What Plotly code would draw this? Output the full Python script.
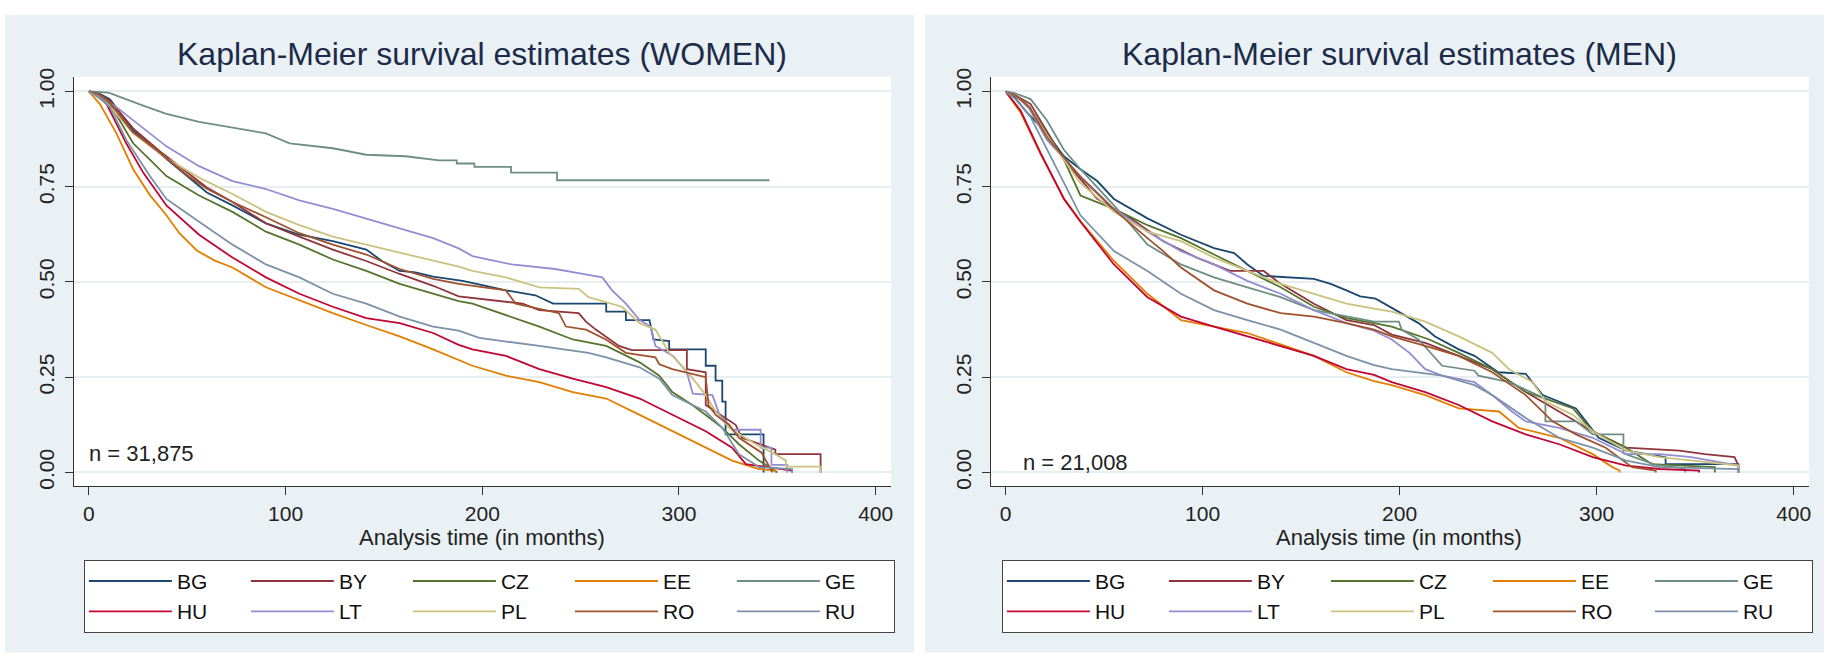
import plotly.graph_objects as go

countries = ["BG", "BY", "CZ", "EE", "GE", "HU", "LT", "PL", "RO", "RU"]
colors = {"BG": "#1a476f", "BY": "#90353b", "CZ": "#55752f", "EE": "#e37e00", "GE": "#6e8e84",
          "HU": "#c10534", "LT": "#938dd2", "PL": "#cac27e", "RO": "#a0522d", "RU": "#7b92a8"}
columns = {"BG": 1, "HU": 1, "BY": 2, "LT": 2, "CZ": 3, "PL": 3, "EE": 4, "RO": 4, "GE": 5, "RU": 5}

x_ticks = [0, 100, 200, 300, 400]
y_ticks = [0, 0.25, 0.5, 0.75, 1.0]
y_ticklabels = ["0.00", "0.25", "0.50", "0.75", "1.00"]

# ---------------- WOMEN ----------------
W_BG_t = [0, 5, 10.7, 22.5, 36, 48, 60, 73, 90, 107, 124, 141, 149, 158, 166, 175, 190, 200, 212, 227, 236, 263, 263, 273, 273, 285, 287, 295, 295, 313.6, 313.6, 318.6, 318.6, 322, 322, 323.7, 323.7, 343, 343]
W_BG_s = [1, 0.995, 0.98, 0.898, 0.838, 0.787, 0.735, 0.701, 0.654, 0.624, 0.607, 0.585, 0.555, 0.529, 0.525, 0.514, 0.503, 0.492, 0.478, 0.465, 0.443, 0.443, 0.422, 0.422, 0.400, 0.400, 0.349, 0.345, 0.323, 0.323, 0.280, 0.280, 0.241, 0.241, 0.186, 0.186, 0.100, 0.100, 0.0]
W_BY_t = [0, 5, 10.7, 22.5, 36, 48, 60, 73, 90, 107, 124, 141, 158, 175, 188, 220.5, 229, 249, 252.7, 257.7, 269.5, 276, 304, 304, 313.6, 313.6, 328.8, 332, 349, 349, 372, 372]
W_BY_s = [1, 0.993, 0.976, 0.903, 0.843, 0.796, 0.748, 0.710, 0.654, 0.619, 0.585, 0.555, 0.521, 0.49, 0.462, 0.443, 0.426, 0.418, 0.396, 0.375, 0.332, 0.321, 0.321, 0.271, 0.263, 0.177, 0.125, 0.091, 0.06, 0.048, 0.048, 0.0]
W_CZ_t = [0, 5, 10.7, 22.5, 31, 39.4, 56, 73, 90, 107, 124, 141, 158, 175, 188, 195, 212, 229, 246, 263, 280, 290, 296.6, 306.8, 313.6, 322, 330.5, 340.7, 347.5, 350]
W_CZ_s = [1, 0.99, 0.967, 0.864, 0.821, 0.778, 0.727, 0.684, 0.632, 0.598, 0.559, 0.529, 0.495, 0.469, 0.450, 0.443, 0.413, 0.383, 0.349, 0.332, 0.289, 0.254, 0.211, 0.177, 0.151, 0.117, 0.074, 0.031, 0.009, 0.0]
W_EE_t = [0, 5.6, 14, 22.5, 31, 39.4, 46, 55, 64, 73, 90, 107, 124, 141, 158, 175, 188, 195, 212, 229, 246, 263, 280, 296.6, 313.6, 327, 340.7, 349, 349]
W_EE_s = [1, 0.967, 0.890, 0.796, 0.728, 0.675, 0.628, 0.582, 0.556, 0.538, 0.486, 0.452, 0.418, 0.387, 0.357, 0.323, 0.295, 0.280, 0.254, 0.237, 0.211, 0.194, 0.151, 0.108, 0.065, 0.031, 0.009, 0.005, 0.0]
W_GE_t = [0, 10, 27.6, 39, 56, 73, 90, 102, 124, 141, 161, 178, 187, 187, 196, 196, 214.6, 214.6, 238, 238, 346]
W_GE_s = [1, 0.997, 0.963, 0.942, 0.920, 0.905, 0.890, 0.864, 0.851, 0.834, 0.830, 0.819, 0.819, 0.811, 0.811, 0.802, 0.802, 0.787, 0.787, 0.767, 0.767]
W_HU_t = [0, 5, 9, 19, 27.6, 39.4, 56, 73, 90, 107, 124, 141, 158, 175, 188, 195, 212, 229, 246, 263, 280, 296.6, 313.6, 327, 334, 357.5, 357.5]
W_HU_s = [1, 0.985, 0.967, 0.864, 0.787, 0.701, 0.624, 0.564, 0.512, 0.469, 0.435, 0.405, 0.392, 0.366, 0.335, 0.323, 0.306, 0.271, 0.246, 0.224, 0.194, 0.151, 0.108, 0.065, 0.022, 0.005, 0.0]
W_LT_t = [0, 5, 14, 26, 39.4, 56, 73, 90, 107, 124, 141, 158, 175, 188, 195, 215, 237, 251, 261, 266, 273, 280, 285.6, 288, 297, 304, 307, 317, 320.6, 325.5, 327, 341.5, 341.5, 347, 347, 355, 355]
W_LT_s = [1, 0.99, 0.959, 0.911, 0.856, 0.804, 0.765, 0.744, 0.714, 0.692, 0.667, 0.641, 0.615, 0.588, 0.568, 0.546, 0.534, 0.521, 0.512, 0.478, 0.443, 0.400, 0.383, 0.332, 0.306, 0.263, 0.207, 0.203, 0.151, 0.125, 0.112, 0.112, 0.065, 0.065, 0.02, 0.02, 0.0]
W_PL_t = [0, 10, 22.5, 39, 56, 73, 90, 107, 124, 141, 158, 175, 188, 195, 212, 229, 249, 254, 271, 280, 288, 295, 303, 308.5, 313.6, 318.6, 325.5, 339, 347.5, 354.4, 354.4, 372, 372]
W_PL_s = [1, 0.965, 0.89, 0.826, 0.774, 0.731, 0.684, 0.649, 0.619, 0.598, 0.576, 0.555, 0.540, 0.529, 0.512, 0.486, 0.482, 0.460, 0.435, 0.392, 0.375, 0.314, 0.271, 0.237, 0.203, 0.160, 0.117, 0.074, 0.052, 0.031, 0.015, 0.015, 0.0]
W_RO_t = [0, 5, 10, 22, 36, 50, 60, 73, 90, 107, 124, 141, 158, 175, 188, 212, 217, 239, 242.5, 252.7, 262.8, 273, 288, 290, 296.6, 313.6, 315, 318.6, 325.5, 330.5, 342, 347.5]
W_RO_s = [1, 0.993, 0.975, 0.895, 0.84, 0.78, 0.745, 0.71, 0.67, 0.628, 0.598, 0.572, 0.534, 0.508, 0.495, 0.478, 0.443, 0.418, 0.383, 0.375, 0.349, 0.314, 0.302, 0.284, 0.271, 0.250, 0.177, 0.151, 0.125, 0.091, 0.052, 0.0]
W_RU_t = [0, 5, 10.7, 19, 31, 39.4, 56, 73, 90, 107, 124, 141, 158, 175, 188, 198.5, 229, 254, 263, 280, 290, 296.6, 313.6, 322, 330.5, 340.7, 357.5, 357.5]
W_RU_s = [1, 0.985, 0.959, 0.873, 0.778, 0.718, 0.658, 0.598, 0.546, 0.512, 0.469, 0.443, 0.409, 0.383, 0.372, 0.353, 0.332, 0.314, 0.302, 0.276, 0.246, 0.203, 0.160, 0.117, 0.048, 0.014, 0.009, 0.0]

# ---------------- MEN ----------------
M_BG_t = [0, 4, 10, 21, 29.6, 38, 46.5, 55, 72, 89, 105.8, 116, 122.7, 131, 156.5, 165, 173, 180, 187.8, 199.6, 209.6, 218, 230, 238, 250, 264, 272.6, 289.5, 301, 315, 335, 335, 372, 372]
M_BG_s = [1, 0.989, 0.95, 0.890, 0.830, 0.796, 0.765, 0.718, 0.667, 0.624, 0.589, 0.576, 0.546, 0.516, 0.508, 0.495, 0.478, 0.462, 0.456, 0.422, 0.392, 0.357, 0.323, 0.306, 0.263, 0.259, 0.203, 0.168, 0.091, 0.057, 0.040, 0.022, 0.022, 0.0]
M_BY_t = [0, 5, 12.7, 29.6, 46.5, 63.5, 80, 97, 114, 131, 139.6, 156.5, 173, 187, 196, 213, 230, 247, 264, 281, 298, 315, 342, 355, 370, 372, 372]
M_BY_s = [1, 0.99, 0.967, 0.821, 0.718, 0.667, 0.607, 0.564, 0.529, 0.529, 0.495, 0.443, 0.400, 0.387, 0.362, 0.340, 0.306, 0.271, 0.211, 0.160, 0.108, 0.065, 0.057, 0.048, 0.040, 0.018, 0.0]
M_CZ_t = [0, 5, 12, 21, 29.6, 38, 46.5, 55, 72, 89, 105.8, 122.7, 139.6, 156.5, 173, 187, 196, 215, 230, 247, 264, 274, 288, 298, 315, 328, 360, 360]
M_CZ_s = [1, 0.99, 0.96, 0.890, 0.821, 0.727, 0.710, 0.692, 0.649, 0.615, 0.572, 0.529, 0.486, 0.435, 0.405, 0.392, 0.383, 0.349, 0.314, 0.271, 0.211, 0.194, 0.168, 0.108, 0.065, 0.022, 0.014, 0.0]
M_EE_t = [0, 7.6, 17.8, 29.6, 38, 55, 72, 89, 105.8, 122.7, 139.6, 156.5, 173, 187, 196, 213, 230, 250.5, 260.5, 281, 298, 308, 311.6, 311.6]
M_EE_s = [1, 0.945, 0.835, 0.72, 0.66, 0.555, 0.469, 0.400, 0.383, 0.366, 0.336, 0.306, 0.263, 0.240, 0.229, 0.203, 0.168, 0.160, 0.117, 0.091, 0.048, 0.014, 0.005, 0.0]
M_GE_t = [0, 5, 12.7, 21, 29.6, 38, 55, 72, 89, 105.8, 122.7, 139.6, 156.5, 173, 187, 199.6, 201, 209.6, 221.6, 238, 240, 255.5, 274, 274, 289.5, 298, 313.6, 313.6, 330, 345, 345]
M_GE_s = [1, 0.995, 0.980, 0.924, 0.847, 0.796, 0.701, 0.598, 0.546, 0.512, 0.486, 0.460, 0.426, 0.409, 0.396, 0.396, 0.375, 0.349, 0.280, 0.267, 0.254, 0.237, 0.194, 0.134, 0.134, 0.100, 0.100, 0.05, 0.02, 0.01, 0.0]
M_HU_t = [0, 7.6, 17.8, 29.6, 38, 55, 72, 89, 105.8, 122.7, 139.6, 156.5, 173, 187, 196, 213, 230, 247, 264, 281, 298, 315, 332, 352, 352]
M_HU_s = [1, 0.950, 0.838, 0.718, 0.658, 0.546, 0.460, 0.409, 0.383, 0.357, 0.332, 0.306, 0.271, 0.256, 0.237, 0.211, 0.177, 0.134, 0.100, 0.074, 0.040, 0.018, 0.009, 0.005, 0.0]
M_LT_t = [0, 5, 12, 21, 38, 55, 72, 89, 105.8, 122.7, 139.6, 156.5, 173, 187, 196, 205, 213, 221.6, 238, 247, 257, 264, 281, 298, 315, 332, 348, 372, 372]
M_LT_s = [1, 0.99, 0.955, 0.873, 0.778, 0.692, 0.632, 0.581, 0.546, 0.503, 0.469, 0.426, 0.392, 0.372, 0.349, 0.314, 0.271, 0.254, 0.237, 0.203, 0.160, 0.134, 0.117, 0.091, 0.048, 0.048, 0.040, 0.018, 0.0]
M_PL_t = [0, 5, 12, 21, 29.6, 38, 55, 72, 89, 105.8, 122.7, 139.6, 156.5, 173, 187, 196, 213, 230, 247, 255.5, 267.5, 274, 288, 298, 315, 332, 349, 372, 372]
M_PL_s = [1, 0.99, 0.96, 0.885, 0.82, 0.76, 0.684, 0.632, 0.607, 0.564, 0.529, 0.495, 0.469, 0.443, 0.430, 0.422, 0.396, 0.357, 0.314, 0.271, 0.237, 0.186, 0.151, 0.108, 0.057, 0.040, 0.031, 0.018, 0.0]
M_RO_t = [0, 5, 12, 21, 38, 55, 72, 80, 89, 105.8, 122.7, 139.6, 156.5, 173, 187, 196, 213, 230, 247, 264, 277.6, 289.5, 304.6, 318, 330, 330]
M_RO_s = [1, 0.99, 0.96, 0.88, 0.775, 0.69, 0.615, 0.581, 0.538, 0.478, 0.443, 0.418, 0.409, 0.392, 0.375, 0.357, 0.332, 0.306, 0.263, 0.203, 0.134, 0.100, 0.065, 0.014, 0.005, 0.0]
M_RU_t = [0, 5, 12.7, 21, 38, 55, 72, 89, 105.8, 122.7, 139.6, 156.5, 173, 187, 196, 221.6, 238, 247, 264, 281, 298, 315, 332, 372, 372]
M_RU_s = [1, 0.98, 0.933, 0.847, 0.675, 0.581, 0.529, 0.469, 0.426, 0.400, 0.375, 0.340, 0.306, 0.282, 0.271, 0.254, 0.229, 0.203, 0.143, 0.091, 0.065, 0.031, 0.014, 0.009, 0.0]

women = {"BG": (W_BG_t, W_BG_s), "BY": (W_BY_t, W_BY_s), "CZ": (W_CZ_t, W_CZ_s), "EE": (W_EE_t, W_EE_s),
         "GE": (W_GE_t, W_GE_s), "HU": (W_HU_t, W_HU_s), "LT": (W_LT_t, W_LT_s), "PL": (W_PL_t, W_PL_s),
         "RO": (W_RO_t, W_RO_s), "RU": (W_RU_t, W_RU_s)}
men = {"BG": (M_BG_t, M_BG_s), "BY": (M_BY_t, M_BY_s), "CZ": (M_CZ_t, M_CZ_s), "EE": (M_EE_t, M_EE_s),
       "GE": (M_GE_t, M_GE_s), "HU": (M_HU_t, M_HU_s), "LT": (M_LT_t, M_LT_s), "PL": (M_PL_t, M_PL_s),
       "RO": (M_RO_t, M_RO_s), "RU": (M_RU_t, M_RU_s)}

FONT = "Liberation Sans, Arial, sans-serif"
W, H = 1831, 662
fig = go.Figure()

for panel, data, xa, ya, leg in [("w", women, "x", "y", "legend"), ("m", men, "x2", "y2", "legend2")]:
    for c in countries:
        t, s = data[c]
        fig.add_trace(go.Scatter(
            x=t, y=s, mode="lines", name=c, xaxis=xa, yaxis=ya,
            line=dict(color=colors[c], width=1.8),
            legend=leg, legendgroup=f"{panel}{columns[c]}", showlegend=True,
            hoverinfo="skip"))


def px_x(p):
    return p / W


def px_y(p):
    return 1 - p / H


axis_common = dict(showline=True, linecolor="#333333", linewidth=1.3, ticks="outside",
                   tickcolor="#333333", tickwidth=1.3, ticklen=8, zeroline=False,
                   tickfont=dict(family=FONT, size=21, color="#222222"))

fig.update_layout(
    width=W, height=H, autosize=False,
    margin=dict(l=0, r=0, t=0, b=0),
    paper_bgcolor="white", plot_bgcolor="white",
    font=dict(family=FONT, color="#222222"),
    xaxis=dict(domain=[px_x(74), px_x(892)], range=[-7.62, 407.8], tickvals=x_ticks,
               showgrid=False, anchor="y", **axis_common),
    yaxis=dict(domain=[px_y(486), px_y(69)], range=[-0.0361, 1.0387], tickvals=y_ticks,
               ticktext=y_ticklabels, tickangle=-90, showgrid=True, gridcolor="#e6eef1",
               gridwidth=1.5, anchor="x", ticklabelstandoff=2, **axis_common),
    xaxis2=dict(domain=[px_x(992), px_x(1811)], range=[-7.45, 407.8], tickvals=x_ticks,
                showgrid=False, anchor="y2", **axis_common),
    yaxis2=dict(domain=[px_y(486), px_y(69)], range=[-0.0361, 1.0387], tickvals=y_ticks,
                ticktext=y_ticklabels, tickangle=-90, showgrid=True, gridcolor="#e6eef1",
                gridwidth=1.5, anchor="x2", ticklabelstandoff=2, **axis_common),
    shapes=[
        dict(type="rect", xref="paper", yref="paper", x0=px_x(5), x1=px_x(915), y0=px_y(655), y1=px_y(6),
             fillcolor="#eaf1f4", line=dict(width=0), layer="below"),
        dict(type="rect", xref="paper", yref="paper", x0=px_x(926), x1=px_x(1826), y0=px_y(655), y1=px_y(6),
             fillcolor="#eaf1f4", line=dict(width=0), layer="below"),
        dict(type="rect", xref="x domain", yref="y domain", x0=0, x1=1, y0=0, y1=1,
             fillcolor="white", line=dict(width=0), layer="below"),
        dict(type="rect", xref="x2 domain", yref="y2 domain", x0=0, x1=1, y0=0, y1=1,
             fillcolor="white", line=dict(width=0), layer="below"),
    ],
)

leg_common = dict(orientation="h", traceorder="grouped", bgcolor="white", bordercolor="#444444",
                  borderwidth=1, font=dict(family=FONT, size=21, color="#111111"),
                  itemwidth=83, entrywidth=64, entrywidthmode="pixels",
                  xanchor="left", yanchor="top", itemclick=False, itemdoubleclick=False)
fig.update_layout(
    legend=dict(x=px_x(84), y=px_y(561), **leg_common),
    legend2=dict(x=px_x(1003), y=px_y(561), **leg_common),
)

title_font = dict(family=FONT, size=32, color="#1d2b4a")
lab_font = dict(family=FONT, size=22, color="#222222")
fig.add_annotation(text="Kaplan-Meier survival estimates (WOMEN)", xref="paper", yref="paper",
                   x=px_x(483), y=px_y(46), showarrow=False, font=title_font, xanchor="center", yanchor="middle")
fig.add_annotation(text="Kaplan-Meier survival estimates (MEN)", xref="paper", yref="paper",
                   x=px_x(1401), y=px_y(46), showarrow=False, font=title_font, xanchor="center", yanchor="middle")
fig.add_annotation(text="Analysis time (in months)", xref="paper", yref="paper",
                   x=px_x(483), y=px_y(538), showarrow=False, font=lab_font, xanchor="center", yanchor="middle")
fig.add_annotation(text="Analysis time (in months)", xref="paper", yref="paper",
                   x=px_x(1401), y=px_y(538), showarrow=False, font=lab_font, xanchor="center", yanchor="middle")
fig.add_annotation(text="n = 31,875", xref="x", yref="y", x=-1, y=0.049, showarrow=False,
                   font=lab_font, xanchor="left", yanchor="middle")
fig.add_annotation(text="n = 21,008", xref="x2", yref="y2", x=7.8, y=0.026, showarrow=False,
                   font=lab_font, xanchor="left", yanchor="middle")

# remove the browser's default page margin so the figure fills the window exactly
fig.write_html("out.html", config={"displayModeBar": False},
               post_script="document.body.style.margin='0';document.body.style.overflow='hidden';")
